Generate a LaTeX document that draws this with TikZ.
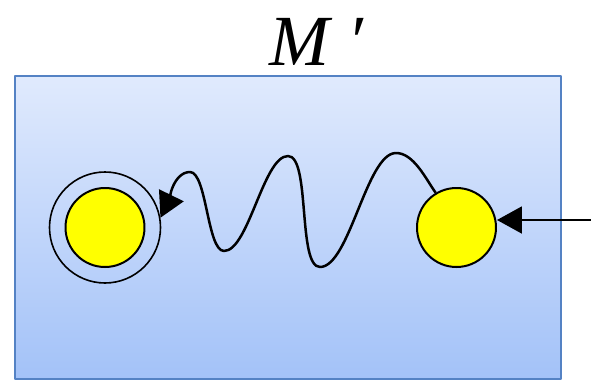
\documentclass[tikz,border=0pt]{standalone}
\usepackage{fontspec}
\setmainfont{Liberation Serif}
\usetikzlibrary{arrows.meta}
\definecolor{boxtop}{RGB}{224,234,253}
\definecolor{boxbot}{RGB}{163,194,248}
\definecolor{boxline}{RGB}{84,130,196}
\definecolor{statefill}{RGB}{255,255,0}
\tikzset{state/.style={circle,draw,line width=1pt,fill=statefill,minimum size=39.5pt,inner sep=0pt},
  ring/.style={circle,draw,line width=0.8pt,minimum size=55.5pt,inner sep=0pt},
  wave/.style={line width=1.25pt}}

\begin{document}
\begin{tikzpicture}[x=0.5pt,y=-0.5pt,>={Triangle[length=12.5pt,width=13.5pt]},line join=round]
\useasboundingbox (0,0) rectangle (591,381);
% --- machine box
\shade[top color=boxtop,bottom color=boxbot] (15,76) rectangle (561,379);
\draw[boxline,line width=1pt] (15,76) rectangle (561,379);
\node[anchor=base west,inner sep=0pt,font=\fontsize{36}{40}\selectfont\itshape] (title) at (269,65) {M\kern9pt′};
% --- states
\node[state] (end) at (105,227.5) {};
\node[ring] (endring) at (end) {};
\node[state] (start) at (456.5,227.5) {};
\coordinate (in) at (591,220);
\draw[->,line width=1pt] (in) -- (in -| start.east);
% --- wavy run from start to end
\draw[wave,->] (start.121) to[out=125,in=0,looseness=.8] (396,153) to[out=180,in=0,looseness=.55] (320,267)
  to[out=180,in=0,looseness=.5] (288,156) to[out=180,in=0,looseness=.55] (224,251)
  to[out=180,in=0,looseness=.5] (190,172) to[out=180,in=64,looseness=.8] (endring.10);
\end{tikzpicture}
\end{document}
